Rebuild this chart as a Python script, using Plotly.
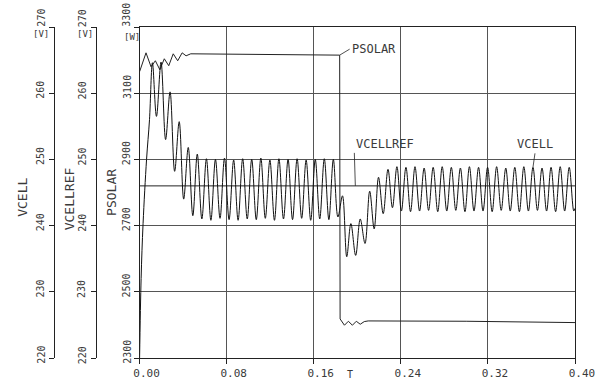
import plotly.graph_objects as go

# ---- simulation traces -------------------------------------------------
# cell voltage VCELL [V]: start-up transient, 120 Hz ripple, load step near 0.184 s
t_vcell = [
    0.0000, 0.0014, 0.0032, 0.0064, 0.0091, 0.0118, 0.0155, 0.0197, 0.0239, 0.0280,
    0.0322, 0.0364, 0.0405, 0.0447, 0.0489, 0.0530, 0.0572, 0.0614, 0.0655, 0.0697,
    0.0739, 0.0780, 0.0822, 0.0864, 0.0905, 0.0947, 0.0989, 0.1030, 0.1072, 0.1114,
    0.1155, 0.1197, 0.1239, 0.1280, 0.1322, 0.1364, 0.1405, 0.1447, 0.1489, 0.1530,
    0.1572, 0.1614, 0.1655, 0.1697, 0.1739, 0.1780, 0.1822, 0.1864, 0.1903, 0.1941,
    0.1985, 0.2027, 0.2071, 0.2114, 0.2155, 0.2195, 0.2238, 0.2282, 0.2323, 0.2364,
    0.2405, 0.2447, 0.2489, 0.2530, 0.2572, 0.2614, 0.2655, 0.2697, 0.2739, 0.2780,
    0.2822, 0.2864, 0.2905, 0.2947, 0.2989, 0.3030, 0.3072, 0.3114, 0.3155, 0.3197,
    0.3239, 0.3280, 0.3322, 0.3364, 0.3405, 0.3447, 0.3489, 0.3530, 0.3572, 0.3614,
    0.3655, 0.3697, 0.3739, 0.3780, 0.3822, 0.3864, 0.3905, 0.3947, 0.3989, 0.4000,
]
vcell = [
    220.0, 232.0, 240.3, 250.0, 256.0, 264.6, 256.5, 264.7, 253.0, 260.2,
    248.2, 255.7, 244.0, 251.8, 241.5, 250.8, 241.0, 250.1, 240.8, 250.0,
    241.1, 250.2, 240.9, 249.9, 240.8, 250.1, 241.0, 250.0, 240.9, 250.2,
    241.1, 249.9, 240.8, 250.1, 241.0, 250.0, 240.9, 250.1, 241.1, 249.9,
    240.8, 250.0, 241.0, 250.1, 240.9, 250.0, 241.3, 244.5, 235.3, 240.3,
    235.5, 241.0, 237.3, 245.2, 239.5, 247.3, 241.8, 248.5, 242.7, 248.9,
    242.2, 248.8, 242.1, 248.9, 242.2, 248.7, 242.3, 248.8, 242.1, 248.9,
    242.2, 248.8, 242.3, 248.7, 242.1, 248.9, 242.2, 248.8, 242.2, 248.8,
    242.1, 248.9, 242.3, 248.7, 242.2, 248.8, 242.1, 248.9, 242.2, 248.8,
    242.3, 248.7, 242.2, 248.8, 242.1, 248.9, 242.2, 248.8, 242.2, 242.6,
]

# solar power PSOLAR [W]
t_psolar = [
    0.0000, 0.0059, 0.0105, 0.0145, 0.0186, 0.0227, 0.0268, 0.0309, 0.0350, 0.0391,
    0.0427, 0.0470, 0.0800, 0.1200, 0.1600, 0.1838, 0.1842, 0.1882, 0.1918, 0.1955,
    0.1991, 0.2027, 0.2064, 0.2100, 0.3000, 0.4000,
]
psolar = [
    3165, 3222, 3180, 3198, 3171, 3204, 3183, 3219, 3198, 3222,
    3213, 3219, 3218, 3217, 3216, 3215, 2418, 2399, 2411, 2399,
    2411, 2402, 2410, 2412, 2411, 2407,
]

# cell voltage reference VCELLREF [V]
t_ref = [0.0, 0.4]
vcellref = [246.0, 246.0]

# axis ticks
x_ticks = [0.00, 0.08, 0.16, 0.24, 0.32, 0.40]
x_ticktext = ["0.00", "0.08", "0.16", "0.24", "0.32", "0.40"]
p_ticks = [2300, 2500, 2700, 2900, 3100, 3300]
v_ticks = [220, 230, 240, 250, 260, 270]

# ---- page geometry (pixels) ---------------------------------------------
W, H = 608, 380
PL, PR, PT, PB = 135, 575, 27, 360      # plotting area edges
VREF_AX, VCELL_AX = 91, 49              # free axis positions

FONT = "DejaVu Sans Mono"
INK = "#222222"
TXT = "#3a3a3a"
GRID = "#555555"


def px(x):
    return x / PR


def py(y):
    return (PB - y) / (PB - PT)


fig = go.Figure()

fig.add_trace(go.Scatter(x=t_psolar, y=psolar, mode="lines", yaxis="y",
                         line=dict(color=INK, width=1),
                         name="PSOLAR"))
fig.add_trace(go.Scatter(x=t_ref, y=vcellref, mode="lines", yaxis="y2",
                         line=dict(color=INK, width=1), name="VCELLREF"))
fig.add_trace(go.Scatter(x=t_vcell, y=vcell, mode="lines", yaxis="y3",
                         line=dict(color="#111111", width=1, shape="spline"),
                         name="VCELL"))

common_y = dict(
    ticks="outside", ticklen=5, tickcolor=INK, showticklabels=False,
    showline=True, linecolor=INK, linewidth=1, zeroline=False,
)

fig.update_layout(
    width=W, height=H,
    margin=dict(l=0, r=W - PR, t=PT, b=H - PB),
    paper_bgcolor="white", plot_bgcolor="white",
    showlegend=False,
    font=dict(family=FONT, color=TXT),
    xaxis=dict(
        domain=[px(PL), 1.0], range=[0.0, 0.4],
        tickvals=x_ticks, ticktext=x_ticktext,
        ticks="outside", ticklen=5, tickcolor=INK,
        showgrid=True, gridcolor=GRID, gridwidth=1,
        showline=True, linecolor=INK, linewidth=1, mirror=True,
        zeroline=False, ticklabelshift=7,
        tickfont=dict(family=FONT, size=11, color=TXT),
    ),
    yaxis=dict(
        range=[2300, 3300], tickvals=p_ticks,
        showgrid=True, gridcolor=GRID, gridwidth=1, mirror=True,
        **common_y,
    ),
    yaxis2=dict(
        range=[220, 270], tickvals=v_ticks, overlaying="y",
        anchor="free", position=px(VREF_AX), side="left", showgrid=False,
        **common_y,
    ),
    yaxis3=dict(
        range=[220, 270], tickvals=v_ticks, overlaying="y",
        anchor="free", position=px(VCELL_AX), side="left", showgrid=False,
        **common_y,
    ),
)

# rotated tick labels, set just above each tick
for ref, ticks, ax_px in (("y3", v_ticks, VCELL_AX), ("y2", v_ticks, VREF_AX),
                          ("y", p_ticks, PL + 1)):
    for i, v in enumerate(ticks):
        top = i == len(ticks) - 1
        fig.add_annotation(text=str(v), xref="paper", yref=ref, x=px(ax_px - 14), y=v,
                           yshift=-2 if top else -8, showarrow=False, textangle=-90,
                           xanchor="center", yanchor="bottom",
                           font=dict(family=FONT, size=10, color=TXT))

# axis titles and units
titles = [
    ("VCELL", 17, 198, 13, -90),
    ("VCELLREF", 65, 200, 13, -90),
    ("PSOLAR", 106, 193, 13, -90),
    ("[V]", 35, 34, 9, 0),
    ("[V]", 80, 34, 9, 0),
    ("[W]", 127, 37, 9, 0),
    ("T", 348, 377, 10, 0),
]
for text, x, y, size, ang in titles:
    fig.add_annotation(text=text, xref="paper", yref="paper", x=px(x), y=py(y),
                       showarrow=False, textangle=ang, xanchor="center",
                       yanchor="middle", font=dict(family=FONT, size=size, color=TXT))

# curve labels with leader lines
i_step = 15
fig.add_annotation(text="PSOLAR", x=t_psolar[i_step], y=psolar[i_step], xref="x", yref="y",
                   showarrow=True, arrowhead=0, arrowwidth=0.8, arrowcolor=INK,
                   ax=10, ay=-6, xanchor="left", yanchor="middle",
                   font=dict(family=FONT, size=12, color=TXT))
fig.add_annotation(text="VCELLREF", x=0.1982, y=vcellref[0], xref="x", yref="y2",
                   showarrow=True, arrowhead=0, arrowwidth=0.8, arrowcolor=INK,
                   ax=-1, ay=-33, xanchor="left", yanchor="bottom",
                   font=dict(family=FONT, size=12, color=TXT))
i_pk = t_vcell.index(0.3614)
fig.add_annotation(text="VCELL", x=t_vcell[i_pk], y=vcell[i_pk], xref="x", yref="y3",
                   showarrow=True, arrowhead=0, arrowwidth=0.8, arrowcolor=INK,
                   ax=2, ay=-14, xanchor="center", yanchor="bottom",
                   font=dict(family=FONT, size=12, color=TXT))

fig.write_html("out.html")
